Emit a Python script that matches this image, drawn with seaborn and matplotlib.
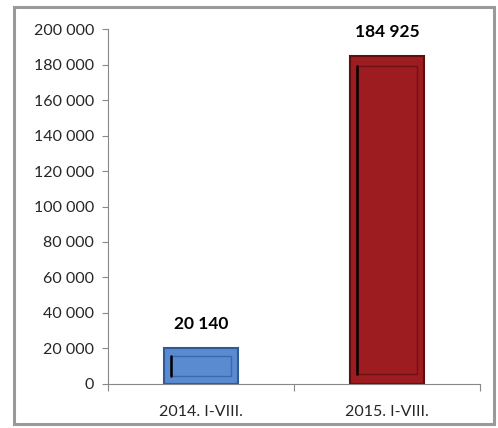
import matplotlib
matplotlib.use("Agg")
import matplotlib.pyplot as plt
import matplotlib.patches as mpatches
import seaborn as sns
import pandas as pd

# Chart data
periods = ["2014. I-VIII.", "2015. I-VIII."]
values = [20140, 184925]
bar_colors = ["#5A8AD0", "#9C1C1F"]
edge_colors = ["#2F5A95", "#5E0E10"]

df = pd.DataFrame({"period": periods, "value": values})

sns.set_style("white")
plt.rcParams["font.family"] = ["Lato", "DejaVu Sans"]

fig = plt.figure(figsize=(4.98, 4.28), dpi=100)
ax = fig.add_axes([0.217, 0.103, 0.747, 0.829])

sns.barplot(data=df, x="period", y="value", hue="period", palette=bar_colors,
            width=0.40, legend=False, ax=ax, saturation=1)

for patch, ec in zip(ax.patches, edge_colors):
    patch.set_edgecolor(ec)
    patch.set_linewidth(1.5)

# bevel-like inner outline
for patch, ec in zip(ax.patches, edge_colors):
    x0, w = patch.get_x(), patch.get_width()
    h = patch.get_height()
    big = h > 50000
    inner = mpatches.Rectangle((x0 + w * 0.1, h * (0.03 if big else 0.22)),
                               w * 0.8, h * (0.94 if big else 0.56),
                               fill=False, edgecolor=ec, linewidth=1.0, alpha=0.7)
    ax.add_patch(inner)
    ax.plot([x0 + w * 0.1] * 2, [h * (0.03 if big else 0.22), h * (0.97 if big else 0.78)],
            color="black", linewidth=1.8)

for i, v in enumerate(values):
    ax.text(i, v + 9000, f"{v:,}".replace(",", " "), ha="center", va="bottom",
            fontsize=12.5, fontweight="bold", color="black")

ax.set_ylim(0, 200000)
ax.set_xlim(-0.5, 1.5)
ax.set_yticks(range(0, 200001, 20000))
ax.set_yticklabels([f"{t:,}".replace(",", " ") for t in range(0, 200001, 20000)])
ax.set_xlabel("")
ax.set_ylabel("")

ax.tick_params(axis="y", which="major", direction="out", length=4, width=0.8,
               color="#888888", labelsize=11.5, pad=6, left=True)
ax.tick_params(axis="x", which="major", length=0, labelsize=11.5, pad=15)
ax.set_xticks([-0.5, 0.5, 1.5], minor=True)
ax.tick_params(axis="x", which="minor", direction="out", length=5, width=0.8,
               color="#888888", bottom=True)

for s in ["top", "right"]:
    ax.spines[s].set_visible(False)
for s in ["left", "bottom"]:
    ax.spines[s].set_color("#888888")
    ax.spines[s].set_linewidth(0.8)

# outer chart frame
fig.patches.append(mpatches.Rectangle((14 / 498, 4 / 428), 480 / 498, 417 / 428,
                                      transform=fig.transFigure, fill=False,
                                      edgecolor="#9a9a9a", linewidth=2.2))

fig.savefig("out.png", dpi=100)
